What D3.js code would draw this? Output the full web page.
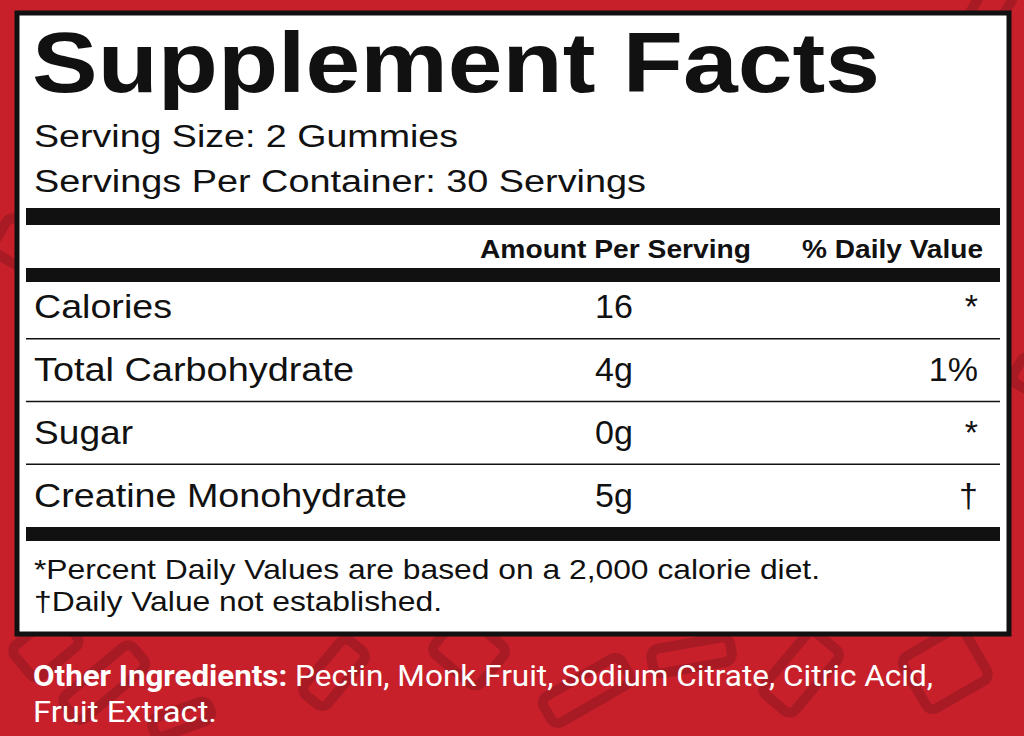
<!DOCTYPE html>
<html><head><meta charset="utf-8">
<script src="https://cdn.jsdelivr.net/npm/d3@7"></script>
<style>body{margin:0;overflow:hidden}</style></head>
<body><div id="chart"></div>
<script>
var title = "Supplement Facts";
var servingLines = ["Serving Size: 2 Gummies", "Servings Per Container: 30 Servings"];
var headers = ["Amount Per Serving", "% Daily Value"];
var nutrients = ["Calories", "Total Carbohydrate", "Sugar", "Creatine Monohydrate"];
var amounts = ["16", "4g", "0g", "5g"];
var dailyValues = ["*", "1%", "*", "\u2020"];
var footnotes = ["*Percent Daily Values are based on a 2,000 calorie diet.", "\u2020Daily Value not established."];

var width = 1024, height = 736;
var svg = d3.select('#chart').append('svg')
  .attr('width', width).attr('height', height);

svg.append('rect').attr('width', width).attr('height', height).attr('fill', '#c7202b');

// background pattern (dark rounded blocks)
var pat = [[10,650,-40,60,40],[60,700,-40,90,30],[300,690,-50,70,30],[430,650,-50,50,60],
  [540,700,-30,90,30],[760,690,-50,80,40],[900,660,-30,70,60],[960,30,-60,60,30],[-10,250,-60,40,80],
  [1010,380,-60,30,90],[150,720,-20,60,20],[650,650,-10,80,25]];
svg.append('g').selectAll('rect').data(pat).enter().append('rect')
  .attr('transform', function(d) { return 'translate(' + d[0] + ',' + d[1] + ') rotate(' + d[2] + ')'; })
  .attr('width', function(d) { return d[3]; }).attr('height', function(d) { return d[4]; })
  .attr('rx', 8).attr('fill', 'none').attr('stroke', '#a81b24').attr('stroke-width', 10);

// label box
svg.append('rect').attr('x', 17).attr('y', 13).attr('width', 992).attr('height', 621)
  .attr('fill', '#fff').attr('stroke', '#111').attr('stroke-width', 5);

var font = 'Liberation Sans, Arial, sans-serif';
function fit(sel, w) { return sel.attr('textLength', w).attr('lengthAdjust', 'spacingAndGlyphs'); }

fit(svg.append('text').attr('x', 32).attr('y', 92).attr('font-family', font)
  .attr('font-weight', 'bold').attr('font-size', 86).attr('fill', '#111').text(title), 848);

var servW = [424, 612];
svg.selectAll('.serv').data(servingLines).enter().append('text')
  .attr('x', 34).attr('y', function(d, i) { return 147 + i * 45; })
  .attr('font-family', font).attr('font-size', 31).attr('fill', '#111')
  .attr('textLength', function(d, i) { return servW[i]; }).attr('lengthAdjust', 'spacingAndGlyphs')
  .text(function(d) { return d; });

var bar = function(y, h) {
  svg.append('rect').attr('x', 26).attr('y', y).attr('width', 974).attr('height', h).attr('fill', '#111');
};
bar(208, 17);
bar(268, 14);
bar(527, 14);

fit(svg.append('text').attr('x', 480).attr('y', 258)
  .attr('font-family', font).attr('font-weight', 'bold').attr('font-size', 25).attr('fill', '#111').text(headers[0]), 271);
fit(svg.append('text').attr('x', 802).attr('y', 258)
  .attr('font-family', font).attr('font-weight', 'bold').attr('font-size', 25).attr('fill', '#111').text(headers[1]), 181);

var nameW = [138, 320, 99, 373];
var y = d3.scaleBand().domain(nutrients).range([276, 527]);
var rows = svg.selectAll('.row').data(nutrients).enter().append('g')
  .attr('transform', function(d) { return 'translate(0,' + y(d) + ')'; });
rows.append('text').attr('x', 34).attr('y', y.bandwidth() / 2 + 11)
  .attr('font-family', font).attr('font-size', 33).attr('fill', '#111')
  .attr('textLength', function(d, i) { return nameW[i]; }).attr('lengthAdjust', 'spacingAndGlyphs')
  .text(function(d) { return d; });
rows.append('text').attr('x', 595).attr('y', y.bandwidth() / 2 + 11)
  .attr('font-family', font).attr('font-size', 34).attr('fill', '#111').text(function(d, i) { return amounts[i]; });
rows.append('text').attr('x', 978).attr('y', y.bandwidth() / 2 + 11).attr('text-anchor', 'end')
  .attr('font-family', font).attr('font-size', 34).attr('fill', '#111').text(function(d, i) { return dailyValues[i]; });
rows.filter(function(d, i) { return i > 0; }).append('line')
  .attr('x1', 26).attr('x2', 1000).attr('y1', 0).attr('y2', 0).attr('stroke', '#111').attr('stroke-width', 1.5);

var footW = [786, 408];
svg.selectAll('.foot').data(footnotes).enter().append('text')
  .attr('x', 34).attr('y', function(d, i) { return 579 + i * 32; })
  .attr('font-family', font).attr('font-size', 28).attr('fill', '#111')
  .attr('textLength', function(d, i) { return footW[i]; }).attr('lengthAdjust', 'spacingAndGlyphs')
  .text(function(d) { return d; });

var ing = svg.append('text').attr('x', 33).attr('y', 686).attr('font-family', 'Roboto, sans-serif')
  .attr('font-size', 30).attr('fill', '#fff');
fit(ing.append('tspan').attr('font-weight', 'bold').text('Other Ingredients: '), 262);
fit(ing.append('tspan').text('Pectin, Monk Fruit, Sodium Citrate, Citric Acid,'), 638);
fit(svg.append('text').attr('x', 33).attr('y', 722).attr('font-family', 'Roboto, sans-serif')
  .attr('font-size', 30).attr('fill', '#fff').text('Fruit Extract.'), 184);
</script></body></html>
